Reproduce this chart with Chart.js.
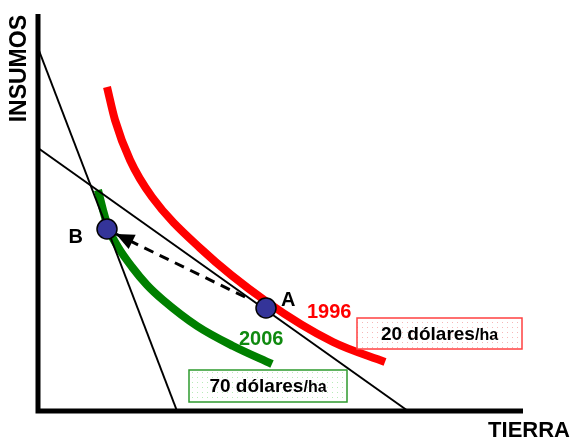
<!DOCTYPE html>
<html>
<head>
<meta charset="utf-8">
<script src="https://cdn.jsdelivr.net/npm/chart.js@4"></script>
<style>
  html, body { margin: 0; padding: 0; background: #fff; }
  #wrap { width: 573px; height: 441px; }
</style>
</head>
<body>
<div id="wrap"><canvas id="chart" width="573" height="441"></canvas></div>
<script>
// curve readings (x = tierra, y = insumos)
const redX = [69, 77, 92, 114, 162, 229, 295, 347];
const redY = [324, 291, 251, 214, 163, 109, 69, 49];
const greenX = [60, 65, 71, 80, 94, 109, 125, 159, 195, 234];
const greenY = [221, 201, 181, 164, 144, 126, 111, 85, 65, 47];
const steepX = [0, 139];
const steepY = [363, 0];
const shallowX = [0, 370];
const shallowY = [263, 0];
const axisX = [0, 0, 485];
const axisY = [397, 0, 0];
const pointNames = ['A', 'B'];
const pointX = [228, 69];
const pointY = [103, 182];
const arrowX = [207, 78];
const arrowY = [114, 177];
const curveLabels = ['1996', '2006'];
const priceLabels = ['20 dólares', '70 dólares'];
const priceUnit = '/ha';

const zip = (xs, ys) => xs.map((x, i) => ({ x: x, y: ys[i] }));

function dotPattern(ctx, dot) {
  const c = document.createElement('canvas');
  c.width = 5; c.height = 5;
  const g = c.getContext('2d');
  g.fillStyle = '#fff';
  g.fillRect(0, 0, 5, 5);
  g.fillStyle = dot;
  g.fillRect(2, 2, 1, 1);
  return ctx.createPattern(c, 'repeat');
}

const labelsPlugin = {
  id: 'labels',
  afterDatasetsDraw(chart) {
    const ctx = chart.ctx;
    const xs = chart.scales.x, ys = chart.scales.y;
    const px = v => xs.getPixelForValue(v);
    const py = v => ys.getPixelForValue(v);

    // arrow head at B
    const x0 = px(arrowX[0]), y0 = py(arrowY[0]);
    const x1 = px(arrowX[1]), y1 = py(arrowY[1]);
    const ang = Math.atan2(y1 - y0, x1 - x0);
    ctx.save();
    ctx.fillStyle = '#000';
    ctx.beginPath();
    ctx.moveTo(x1, y1);
    ctx.lineTo(x1 - 18 * Math.cos(ang) + 8 * Math.sin(ang), y1 - 18 * Math.sin(ang) - 8 * Math.cos(ang));
    ctx.lineTo(x1 - 18 * Math.cos(ang) - 8 * Math.sin(ang), y1 - 18 * Math.sin(ang) + 8 * Math.cos(ang));
    ctx.closePath();
    ctx.fill();
    ctx.restore();
  },
  afterDraw(chart) {
    const ctx = chart.ctx;
    const xs = chart.scales.x, ys = chart.scales.y;
    const px = v => xs.getPixelForValue(v);
    const py = v => ys.getPixelForValue(v);
    ctx.save();
    ctx.textBaseline = 'middle';

    // point names
    ctx.fillStyle = '#000';
    ctx.font = 'bold 20px "Liberation Sans", Arial, sans-serif';
    ctx.textAlign = 'left';
    ctx.fillText(pointNames[0], px(pointX[0]) + 15, py(pointY[0]) - 8);
    ctx.textAlign = 'right';
    ctx.fillText(pointNames[1], px(pointX[1]) - 24, py(pointY[1]) + 8);

    // curve years
    ctx.textAlign = 'left';
    ctx.font = 'bold 20px "Liberation Sans", Arial, sans-serif';
    ctx.fillStyle = '#ff0000';
    ctx.fillText(curveLabels[0], 307, 312);
    ctx.fillStyle = '#108a10';
    ctx.fillText(curveLabels[1], 239, 339);

    // price boxes
    const boxes = [
      { x: 357, y: 318, w: 165, h: 31, border: '#ff4040', dot: '#f6b8b8' },
      { x: 189, y: 370, w: 158, h: 32, border: '#2e9a2e', dot: '#b8ecb8' }
    ];
    boxes.forEach((b, i) => {
      ctx.fillStyle = dotPattern(ctx, b.dot);
      ctx.fillRect(b.x, b.y, b.w, b.h);
      ctx.strokeStyle = b.border;
      ctx.lineWidth = 1.5;
      ctx.strokeRect(b.x, b.y, b.w, b.h);
      ctx.fillStyle = '#000';
      ctx.font = 'bold 19px "Liberation Sans", Arial, sans-serif';
      const w1 = ctx.measureText(priceLabels[i]).width;
      ctx.font = 'bold 16px "Liberation Sans", Arial, sans-serif';
      const w2 = ctx.measureText(priceUnit).width;
      const sx = b.x + (b.w - w1 - w2) / 2;
      const cy = b.y + b.h / 2 + 1;
      ctx.textAlign = 'left';
      ctx.font = 'bold 19px "Liberation Sans", Arial, sans-serif';
      ctx.fillText(priceLabels[i], sx, cy);
      ctx.font = 'bold 16px "Liberation Sans", Arial, sans-serif';
      ctx.fillText(priceUnit, sx + w1, cy + 1);
    });

    // axis titles
    ctx.fillStyle = '#000';
    ctx.font = 'bold 22px "Liberation Sans", Arial, sans-serif';
    ctx.textAlign = 'right';
    ctx.fillText('TIERRA', 570, 431);
    ctx.font = 'bold 23px "Liberation Sans", Arial, sans-serif';
    ctx.translate(20, 15);
    ctx.rotate(-Math.PI / 2);
    ctx.textAlign = 'right';
    ctx.fillText('INSUMOS', 0, 0);
    ctx.restore();
  }
};

const chart = new Chart(document.getElementById('chart'), {
  type: 'scatter',
  data: {
    datasets: [
      {
        label: 'puntos',
        data: zip(pointX, pointY),
        pointRadius: 10,
        pointBackgroundColor: '#343499',
        pointBorderColor: '#000',
        pointBorderWidth: 1.5,
        showLine: false
      },
      {
        label: 'flecha',
        data: zip(arrowX, arrowY),
        showLine: true,
        borderColor: '#000',
        borderWidth: 3,
        borderDash: [10, 7],
        pointRadius: 0
      },
      {
        label: 'precio 70',
        data: zip(steepX, steepY),
        showLine: true,
        borderColor: '#000',
        borderWidth: 2,
        pointRadius: 0
      },
      {
        label: 'precio 20',
        data: zip(shallowX, shallowY),
        showLine: true,
        borderColor: '#000',
        borderWidth: 2,
        pointRadius: 0
      },
      {
        label: '1996',
        data: zip(redX, redY),
        showLine: true,
        borderColor: '#ff0000',
        borderWidth: 8,
        cubicInterpolationMode: 'monotone',
        pointRadius: 0
      },
      {
        label: '2006',
        data: zip(greenX, greenY),
        showLine: true,
        borderColor: '#008000',
        borderWidth: 8,
        cubicInterpolationMode: 'monotone',
        pointRadius: 0
      },
      {
        label: 'ejes',
        data: zip(axisX, axisY),
        showLine: true,
        borderColor: '#000',
        borderWidth: 5,
        borderJoinStyle: 'miter',
        pointRadius: 0
      }
    ]
  },
  options: {
    responsive: false,
    animation: false,
    clip: false,
    layout: { padding: { left: 38, right: 50, top: 14, bottom: 30 } },
    plugins: {
      legend: { display: false },
      tooltip: { enabled: false }
    },
    scales: {
      x: { type: 'linear', min: 0, max: 485, display: false },
      y: { type: 'linear', min: 0, max: 397, display: false }
    }
  },
  plugins: [labelsPlugin]
});
</script>
</body>
</html>
